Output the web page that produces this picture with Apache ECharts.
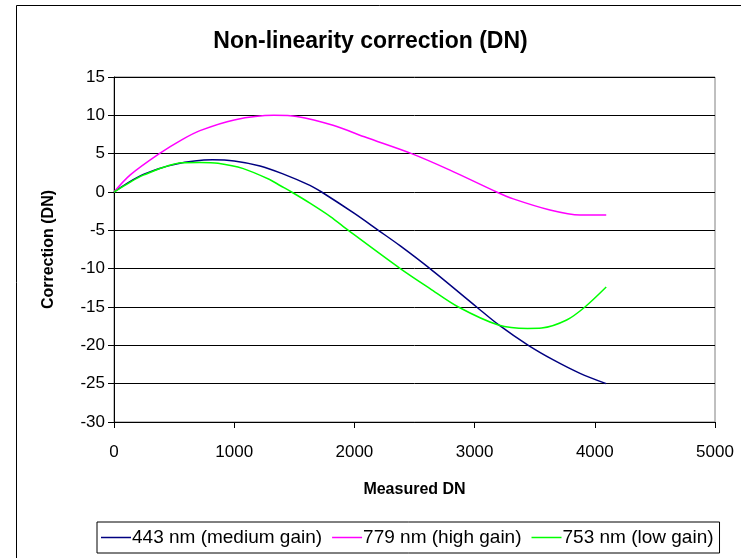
<!DOCTYPE html>
<html>
<head>
<meta charset="utf-8">
<script src="https://cdn.jsdelivr.net/npm/echarts@6/dist/echarts.min.js"></script>
<style>html,body{margin:0;padding:0;background:#fff}#c{width:741px;height:558px}</style>
</head>
<body>
<div id="c"></div>
<script>
const seriesNames = ['443 nm (medium gain)', '779 nm (high gain)', '753 nm (low gain)'];
const xTicks = [0, 1000, 2000, 3000, 4000, 5000];
const yTicks = [-30, -25, -20, -15, -10, -5, 0, 5, 10, 15];

const blueX = [0, 105, 244, 500, 820, 1000, 1215, 1400, 1630, 1727, 2000, 2199, 2379, 2629, 3017, 3198, 3447, 3655, 3877, 4095];
const blueY = [0, 1.1, 2.3, 3.6, 4.2, 4.05, 3.4, 2.4, 0.87, 0, -2.8, -5, -7.0, -10, -15, -17.3, -20, -21.9, -23.65, -25];

const magX = [0, 133, 377, 563, 715, 1000, 1330, 1520, 1822, 2100, 2476, 2795, 3183, 3322, 3627, 3877, 4095];
const magY = [0, 2.2, 5, 6.8, 8.0, 9.4, 10, 9.85, 8.7, 7.1, 5.0, 2.85, 0, -0.9, -2.35, -3.0, -3.0];

const greenX = [0, 105, 244, 563, 715, 865, 1076, 1298, 1381, 1477, 1630, 1800, 1950, 2379, 2629, 2865, 3198, 3440, 3558, 3766, 3918, 4095];
const greenY = [0, 1.0, 2.2, 3.8, 3.85, 3.75, 3.05, 1.6, 0.85, 0, -1.45, -3.2, -5, -9.95, -12.6, -15, -17.35, -17.8, -17.75, -16.7, -15, -12.4];

const colors = ['#000080', '#FF00FF', '#00FF00'];
function pairs(xs, ys) { return xs.map((x, i) => [x, ys[i]]); }
const allData = [pairs(blueX, blueY), pairs(magX, magY), pairs(greenX, greenY)];

const font = 'Arial, "Liberation Sans", sans-serif';
const chart = echarts.init(document.getElementById('c'));
chart.setOption({
  animation: false,
  backgroundColor: '#fff',
  title: {
    text: 'Non-linearity correction (DN)',
    left: 'center', top: 25,
    textStyle: { fontFamily: font, fontWeight: 'bold', fontSize: 23, color: '#000' }
  },
  graphic: [{
    type: 'rect', silent: true,
    shape: { x: 16.5, y: 5.5, width: 800, height: 700 },
    style: { fill: 'none', stroke: '#000', lineWidth: 1 }
  }],
  grid: { left: 114, right: 26, top: 77, bottom: 136, show: true, borderColor: '#808080', borderWidth: 1 },
  xAxis: {
    type: 'value', min: xTicks[0], max: xTicks[xTicks.length - 1], interval: 1000,
    name: 'Measured DN', nameLocation: 'middle', nameGap: 60,
    nameTextStyle: { fontFamily: font, fontWeight: 'bold', fontSize: 16, color: '#000' },
    axisLine: { show: true, onZero: false, lineStyle: { color: '#000', width: 1 } },
    axisTick: { show: true, length: 6, lineStyle: { color: '#000' } },
    axisLabel: { margin: 22, fontFamily: font, fontSize: 17, color: '#000', formatter: v => String(v) },
    splitLine: { show: false }
  },
  yAxis: {
    type: 'value', min: yTicks[0], max: yTicks[yTicks.length - 1], interval: 5,
    name: 'Correction (DN)', nameLocation: 'middle', nameGap: 57, nameRotate: 90,
    nameTextStyle: { fontFamily: font, fontWeight: 'bold', fontSize: 16, color: '#000' },
    axisLine: { show: true, onZero: false, lineStyle: { color: '#000', width: 1 } },
    axisTick: { show: true, length: 6, lineStyle: { color: '#000' } },
    axisLabel: { margin: 9, fontFamily: font, fontSize: 17, color: '#000' },
    splitLine: { show: true, lineStyle: { color: '#000', width: 1 } }
  },
  legend: {
    left: 97, top: 522, width: 640,
    orient: 'horizontal',
    itemWidth: 30, itemHeight: 1.5, itemGap: 10,
    padding: [6, 6, 6, 4],
    borderColor: '#000', borderWidth: 1,
    icon: 'rect',
    textStyle: { fontFamily: font, fontSize: 19, color: '#000', padding: [0, 0, 0, -4] },
    data: seriesNames
  },
  series: seriesNames.map((n, i) => ({
    name: n, type: 'line', data: allData[i], smooth: 0.3,
    showSymbol: false, symbol: 'none',
    lineStyle: { color: colors[i], width: 1.5 },
    itemStyle: { color: colors[i] }
  }))
});
</script>
</body>
</html>
